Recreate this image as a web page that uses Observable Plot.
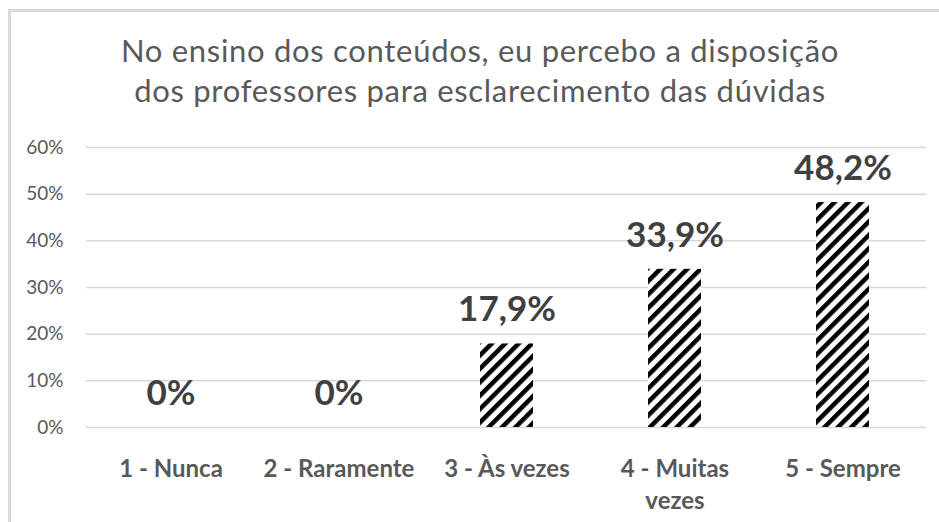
<!DOCTYPE html>
<html>
<head>
<meta charset="utf-8">
<script src="https://cdn.jsdelivr.net/npm/d3@7"></script>
<script src="https://cdn.jsdelivr.net/npm/@observablehq/plot@0.6"></script>
<style>
  html, body { margin: 0; padding: 0; background: #fff; }
  #wrap { position: relative; width: 939px; height: 522px; overflow: hidden; background: #fff; }
  #frame { position: absolute; left: 8px; top: 9px; width: 1000px; height: 600px;
           border-left: 3px solid #d9d9d9; border-top: 3px solid #d9d9d9; pointer-events: none; }
  #title { position: absolute; left: 0; top: 30px; width: 960px; text-align: center;
           font-family: Lato, sans-serif; font-size: 31px; letter-spacing: 0.7px; line-height: 40px; color: #595959; }
  #chart { position: absolute; left: 0; top: 120px; }
</style>
</head>
<body>
<div id="wrap">
  <div id="frame"></div>
  <div id="title">No ensino dos conteúdos, eu percebo a disposição<br>dos professores para esclarecimento das dúvidas</div>
  <div id="chart"></div>
</div>
<script>
const categories = ["1 - Nunca", "2 - Raramente", "3 - Às vezes", "4 - Muitas vezes", "5 - Sempre"];
const values = [0, 0, 0.179, 0.339, 0.482];
const valueLabels = ["0%", "0%", "17,9%", "33,9%", "48,2%"];
const yTicks = [0, 0.1, 0.2, 0.3, 0.4, 0.5, 0.6];

const data = categories.map((c, i) => ({cat: c, value: values[i], label: valueLabels[i]}));

const plot = Plot.plot({
  width: 939,
  height: 402,
  marginTop: 27,
  marginBottom: 95,
  marginLeft: 86,
  marginRight: 13,
  style: {fontFamily: "Lato, sans-serif", color: "#595959", background: "transparent"},
  x: {domain: categories, paddingInner: 0.685, paddingOuter: 0.3425, label: null},
  y: {domain: [0, 0.6], label: null},
  marks: [
    Plot.gridY(yTicks, {stroke: "#d9d9d9", strokeOpacity: 1, strokeWidth: 1.5}),
    Plot.axisY(yTicks, {tickSize: 0, tickPadding: 23, tickFormat: d3.format(".0%"), fontSize: 19, fill: "#595959", label: null}),
    Plot.axisX({tickSize: 0, tickPadding: 27, fontSize: 24, fontWeight: "bold", fill: "#595959", lineHeight: 1.33,
      tickFormat: d => d.replace("Muitas vezes", "Muitas\nvezes"), label: null}),
    Plot.barY(data, {x: "cat", y: "value", fill: "url(#hatch)"}),
    Plot.text(data, {x: "cat", y: "value", text: "label", dy: -34, fontSize: 35, fontWeight: "bold", fill: "#404040"})
  ]
});

const ns = "http://www.w3.org/2000/svg";
const defs = document.createElementNS(ns, "defs");
const pat = document.createElementNS(ns, "pattern");
pat.setAttribute("id", "hatch");
pat.setAttribute("patternUnits", "userSpaceOnUse");
pat.setAttribute("width", "9.5");
pat.setAttribute("height", "9.5");
pat.setAttribute("patternTransform", "rotate(45)");
const bg = document.createElementNS(ns, "rect");
bg.setAttribute("width", "9.5"); bg.setAttribute("height", "9.5"); bg.setAttribute("fill", "#fff");
const st = document.createElementNS(ns, "rect");
st.setAttribute("width", "4.5"); st.setAttribute("height", "9.5"); st.setAttribute("fill", "#000");
pat.appendChild(bg); pat.appendChild(st);
defs.appendChild(pat);
plot.insertBefore(defs, plot.firstChild);

document.getElementById("chart").appendChild(plot);
</script>
</body>
</html>
